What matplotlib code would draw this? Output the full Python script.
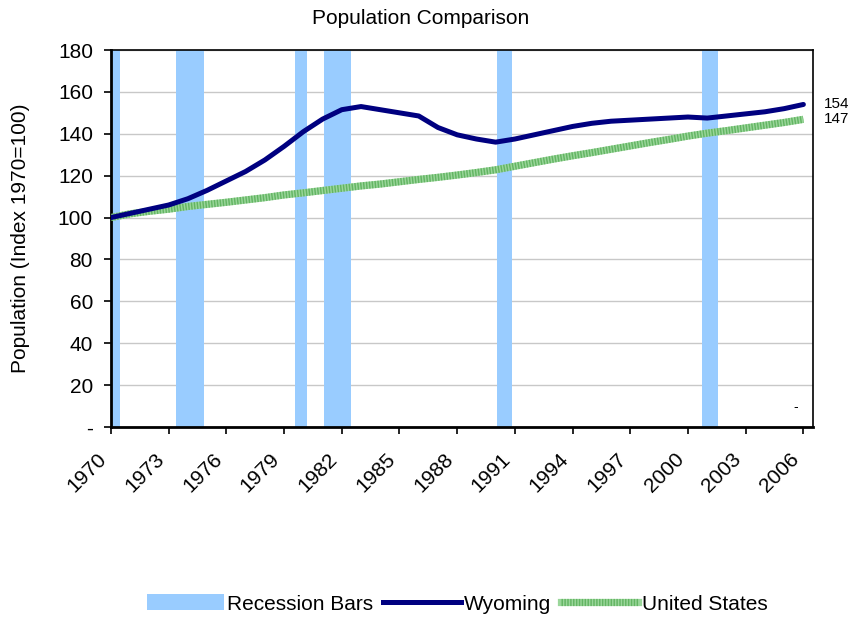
import matplotlib.pyplot as plt
import matplotlib.transforms as mtransforms
from matplotlib.lines import Line2D
from matplotlib.patches import Patch

plt.rcParams['font.family'] = ['Liberation Sans', 'DejaVu Sans']

years = list(range(1970, 2007))
wyoming = [100, 102, 104, 106, 109, 113, 117.5, 122, 127.5, 134,
           141, 147, 151.5, 153, 151.5, 150, 148.5, 143, 139.5, 137.5,
           136, 137.5, 139.5, 141.5, 143.5, 145, 146, 146.5, 147, 147.5,
           148, 147.5, 148.5, 149.5, 150.5, 152, 154]
united_states = [100, 101.8, 103.0, 104.0, 105.3, 106.3, 107.3, 108.4, 109.5, 110.8,
                 111.8, 112.9, 114.0, 115.1, 116.0, 117.1, 118.2, 119.2, 120.3, 121.5,
                 122.8, 124.5, 126.2, 127.9, 129.5, 131.0, 132.6, 134.2, 135.8, 137.3,
                 138.9, 140.3, 141.5, 142.8, 144.1, 145.4, 146.9]

# recession spans (fractional years on the axis)
rec_start = [1970.0, 1973.4, 1979.55, 1981.05, 1990.05, 2000.75]
rec_end = [1970.47, 1974.85, 1980.17, 1982.5, 1990.85, 2001.55]

tick_years = list(range(1970, 2007, 3))
y_ticks = [0, 20, 40, 60, 80, 100, 120, 140, 160, 180]
y_labels = ['-'] + [str(v) for v in y_ticks[1:]]

C_REC = '#99ccff'
C_WY = '#000080'
C_US_LIGHT = '#9ad69a'
C_US_DARK = '#3f9f3f'
FS = 15

fig = plt.figure(figsize=(8.57, 6.18), dpi=100)
ax = fig.add_axes([111/857, 1 - 427/618, (813 - 111)/857, (427 - 50)/618])

for s, e in zip(rec_start, rec_end):
    ax.axvspan(s, e, color=C_REC, lw=0, zorder=1)

ax.plot(years, united_states, color=C_US_LIGHT, lw=5.2, solid_capstyle='butt', zorder=3)
ax.plot(years, united_states, color=C_US_DARK, lw=5.2, ls=(0, (0.2, 0.2)),
        dash_capstyle='butt', alpha=0.6, zorder=3)
ax.plot(years, wyoming, color=C_WY, lw=3.6, solid_capstyle='round', zorder=4)

ax.set_xlim(1970, 2006.5)
ax.set_ylim(0, 180)
ax.set_yticks(y_ticks)
ax.set_yticklabels(y_labels, fontsize=FS)
ax.set_xticks(tick_years)
ax.set_xticklabels([str(y) for y in tick_years], rotation=45, ha='right',
                   rotation_mode='anchor', fontsize=FS)
ax.tick_params(axis='both', direction='out', length=5, width=1.2, color='black')
ax.tick_params(axis='x', pad=11)
ax.tick_params(axis='y', pad=8)

# nudge the rotated year labels left, as in the original
shift = mtransforms.ScaledTranslation(-14/100, 0, fig.dpi_scale_trans)
for lbl in ax.get_xticklabels():
    lbl.set_transform(lbl.get_transform() + shift)

ax.yaxis.grid(True, color='#c8c8c8', lw=1)
ax.set_axisbelow(True)
for side in ['left', 'bottom']:
    ax.spines[side].set_linewidth(2)
for side in ['top', 'right']:
    ax.spines[side].set_linewidth(1.2)

ax.set_ylabel('Population (Index 1970=100)', fontsize=FS, labelpad=20)

# end-of-series labels
ax.text(1.016, (427 - 104) / 377, f'{wyoming[-1]:.0f}', transform=ax.transAxes,
        ha='left', va='center', fontsize=11)
ax.text(1.016, (427 - 119) / 377, f'{united_states[-1]:.0f}',
        transform=ax.transAxes, ha='left', va='center', fontsize=11)
ax.text(2005.6, 9.5, '-', ha='center', va='center', fontsize=10)

fig.text(0.491, 1 - 18/618, 'Population Comparison', ha='center', va='center', fontsize=FS)

handles = [
    Patch(facecolor=C_REC, edgecolor='none'),
    Line2D([0], [0], color=C_WY, lw=3.6),
    (Line2D([0], [0], color=C_US_LIGHT, lw=5.2),
     Line2D([0], [0], color=C_US_DARK, lw=5.2, ls=(0, (0.2, 0.2)), alpha=0.6)),
]
fig.legend(handles, ['Recession Bars', 'Wyoming', 'United States'],
           loc='center', bbox_to_anchor=(457/857, 1 - 604/618), ncol=3, frameon=False,
           fontsize=FS, handlelength=3.7, handleheight=0.8, handletextpad=0.15,
           columnspacing=0.5)

fig.savefig('out.png', dpi=100)
